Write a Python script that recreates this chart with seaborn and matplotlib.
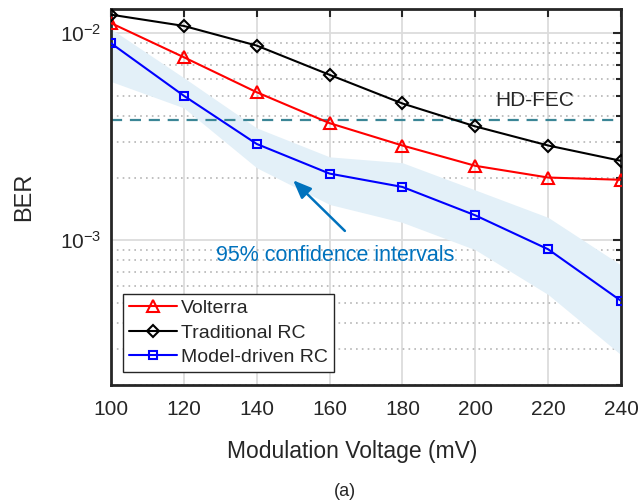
import numpy as np
import pandas as pd
import matplotlib
matplotlib.use('Agg')
import matplotlib.pyplot as plt
from matplotlib.ticker import LogLocator, NullFormatter
import seaborn as sns

# values
voltage = [100, 120, 140, 160, 180, 200, 220, 240]
volterra = [1.12e-2, 7.66e-3, 5.19e-3, 3.68e-3, 2.87e-3, 2.29e-3, 2.01e-3, 1.96e-3]
traditional_rc = [1.23e-2, 1.085e-2, 8.72e-3, 6.30e-3, 4.58e-3, 3.55e-3, 2.87e-3, 2.42e-3]
model_rc = [8.95e-3, 4.99e-3, 2.92e-3, 2.10e-3, 1.81e-3, 1.32e-3, 9.05e-4, 5.10e-4]
ci_upper = [1.05e-2, 6.1e-3, 3.49e-3, 2.53e-3, 2.37e-3, 1.75e-3, 1.29e-3, 7.6e-4]
ci_lower = [5.85e-3, 4.36e-3, 2.24e-3, 1.49e-3, 1.22e-3, 9.0e-4, 5.47e-4, 2.8e-4]
hd_fec = 3.8e-3

sns.set_style('white')
plt.rcParams['font.family'] = ['Liberation Sans', 'DejaVu Sans']
plt.rcParams['mathtext.fontset'] = 'custom'
plt.rcParams['mathtext.rm'] = 'Liberation Sans'

fig = plt.figure(figsize=(6.41, 5.04), dpi=100)
ax = fig.add_axes([111 / 641, 1 - 385 / 504, 510 / 641, 376 / 504])

ink = '#262626'
ax.fill_between(voltage, ci_lower, ci_upper, color='#e3f0f8', lw=0, zorder=1)
ax.axhline(hd_fec, color='#3b8696', lw=1.6, dashes=(5, 3.5), zorder=2)

sns.lineplot(x=voltage, y=volterra, ax=ax, color='red', marker='^', markersize=8,
             markerfacecolor='none', markeredgecolor='red', mew=1.5, lw=1.5,
             label='Volterra', zorder=4)
sns.lineplot(x=voltage, y=traditional_rc, ax=ax, color='black', marker='D', markersize=6.5,
             markerfacecolor='none', markeredgecolor='black', mew=1.5, lw=1.5,
             label='Traditional RC', zorder=4)
sns.lineplot(x=voltage, y=model_rc, ax=ax, color='blue', marker='s', markersize=6,
             markerfacecolor='none', markeredgecolor='blue', mew=1.5, lw=1.5,
             label='Model-driven RC', zorder=4)

ax.set_yscale('log')
ax.set_xlim(100, 240)
ax.set_ylim(2e-4, 1.31e-2)
ax.set_xticks(voltage)
ax.yaxis.set_major_locator(LogLocator(base=10))
ax.yaxis.set_minor_locator(LogLocator(base=10, subs=np.arange(2, 10)))
ax.yaxis.set_minor_formatter(NullFormatter())

ax.set_axisbelow(True)
ax.grid(True, which='major', axis='both', color='#dcdcdc', lw=1.3, ls='-')
ax.grid(True, which='minor', axis='y', color='#b5b5b5', lw=1.2, ls=(0, (1, 2.5)))

for s in ax.spines.values():
    s.set_color(ink)
    s.set_linewidth(2)
ax.tick_params(which='both', direction='in', top=True, right=True, colors=ink,
               labelcolor=ink, labelsize=15, width=1.5)
ax.tick_params(which='major', length=6)
ax.tick_params(axis='x', which='major', pad=11)
ax.tick_params(axis='y', which='major', pad=7)
ax.tick_params(which='minor', length=3.5)

ax.set_xlabel('Modulation Voltage (mV)', fontsize=16.5, color=ink)
ax.set_ylabel('BER', fontsize=17, color=ink, labelpad=18)
ax.xaxis.set_label_coords(0.473, -0.145)

ax.text(216.4, 4.73e-3, 'HD-FEC', fontsize=15, color=ink, ha='center', va='center')
ax.text(161.5, 8.4e-4, '95% confidence intervals', fontsize=15.5, color='#0072BD',
        ha='center', va='center')
ax.annotate('', xy=(150.0, 1.95e-3), xytext=(164.2, 1.11e-3),
            arrowprops=dict(arrowstyle='-|>,head_length=1.1,head_width=0.45',
                            color='#0072BD', lw=1.8, shrinkA=0, shrinkB=0))

leg = ax.legend(loc='lower left', bbox_to_anchor=(0.0235, 0.035), borderaxespad=0,
                fontsize=14, frameon=True, fancybox=False, framealpha=1,
                edgecolor=ink, labelspacing=0.35, handlelength=2.5,
                handletextpad=0.2, borderpad=0.3)
leg.get_frame().set_linewidth(1.0)

fig.text(345 / 641, 1 - 492 / 504, '(a)', fontsize=13, color=ink, ha='center', va='center')

fig.savefig('out.png', dpi=100)
